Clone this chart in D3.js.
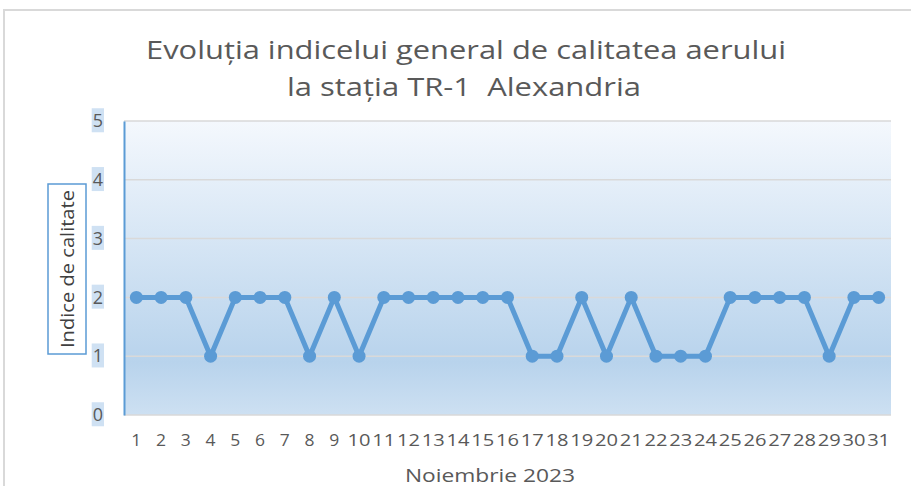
<!DOCTYPE html>
<html>
<head>
<meta charset="utf-8">
<script src="https://cdn.jsdelivr.net/npm/d3@7"></script>
<style>
	body { margin: 0; background: #fff; }
	svg { display: block; }
	text { font-family: "Open Sans", "Noto Sans", sans-serif; fill: #595959; }
</style>
</head>
<body>
<svg width="911" height="486"></svg>
<script>
// indicele general zilnic, noiembrie 2023
const data = [
	{ zi: 1, indice: 2 }, { zi: 2, indice: 2 }, { zi: 3, indice: 2 }, { zi: 4, indice: 1 },
	{ zi: 5, indice: 2 }, { zi: 6, indice: 2 }, { zi: 7, indice: 2 }, { zi: 8, indice: 1 },
	{ zi: 9, indice: 2 }, { zi: 10, indice: 1 }, { zi: 11, indice: 2 }, { zi: 12, indice: 2 },
	{ zi: 13, indice: 2 }, { zi: 14, indice: 2 }, { zi: 15, indice: 2 }, { zi: 16, indice: 2 },
	{ zi: 17, indice: 1 }, { zi: 18, indice: 1 }, { zi: 19, indice: 2 }, { zi: 20, indice: 1 },
	{ zi: 21, indice: 2 }, { zi: 22, indice: 1 }, { zi: 23, indice: 1 }, { zi: 24, indice: 1 },
	{ zi: 25, indice: 2 }, { zi: 26, indice: 2 }, { zi: 27, indice: 2 }, { zi: 28, indice: 2 },
	{ zi: 29, indice: 1 }, { zi: 30, indice: 2 }, { zi: 31, indice: 2 }
];

const blue = "#5b9bd5";
const svg = d3.select("svg");
const margin = { top: 121, right: 20, bottom: 71, left: 124 };
const width = 911 - margin.left - margin.right,
	height = 486 - margin.top - margin.bottom;

// chenarul graficului
svg.append("rect")
	.attr("x", 4).attr("y", 10)
	.attr("width", 920).attr("height", 500)
	.attr("fill", "none").attr("stroke", "#d9d9d9").attr("stroke-width", 2);

const defs = svg.append("defs");
const grad = defs.append("linearGradient")
	.attr("id", "fundal").attr("x1", 0).attr("y1", 0).attr("x2", 0).attr("y2", 1);
grad.append("stop").attr("offset", "0%").attr("stop-color", "#f4f8fd");
grad.append("stop").attr("offset", "82%").attr("stop-color", "#b8d3ec");
grad.append("stop").attr("offset", "100%").attr("stop-color", "#cde0f2");

const x = d3.scaleBand()
	.domain(data.map(d => d.zi))
	.range([0, width]);

const y = d3.scaleLinear()
	.domain([0, 5])
	.range([height, 0]);

const g = svg.append("g")
	.attr("transform", `translate(${margin.left},${margin.top})`);

g.append("rect")
	.attr("width", width).attr("height", height)
	.attr("fill", "url(#fundal)");

// linii de grila
g.append("g")
	.selectAll("line")
	.data(y.ticks(5))
	.enter().append("line")
	.attr("x1", 0).attr("x2", width)
	.attr("y1", d => y(d)).attr("y2", d => y(d))
	.attr("stroke", "#d9d9d9").attr("stroke-width", 1.5);

// axa y
const yAxis = g.append("g")
	.call(d3.axisLeft(y).ticks(5).tickSize(0).tickPadding(21));
yAxis.select(".domain").attr("stroke", blue).attr("stroke-width", 2);
yAxis.selectAll(".tick text")
	.style("font-size", "18px")
	.attr("fill", "#595959")
	.each(function () {
		const b = this.getBBox();
		d3.select(this.parentNode).insert("rect", "text")
			.attr("x", b.x - 1).attr("y", b.y)
			.attr("width", b.width + 2).attr("height", b.height)
			.attr("fill", "#cfe1f3");
	});

// axa x
const xAxis = g.append("g")
	.attr("transform", `translate(0,${height})`)
	.call(d3.axisBottom(x).tickSize(0).tickPadding(19));
xAxis.select(".domain").remove();
xAxis.selectAll(".tick text")
	.style("font-size", "17px")
	.attr("fill", "#595959")
	.attr("textLength", d => d < 10 ? 10 : 23)
	.attr("lengthAdjust", "spacingAndGlyphs");

// linia si markerii
const line = d3.line()
	.x(d => x(d.zi) + x.bandwidth() / 2)
	.y(d => y(d.indice));

g.append("path")
	.datum(data)
	.attr("fill", "none")
	.attr("stroke", blue)
	.attr("stroke-width", 5)
	.attr("stroke-linejoin", "round")
	.attr("d", line);

g.append("g")
	.selectAll("circle")
	.data(data)
	.enter().append("circle")
	.attr("cx", d => x(d.zi) + x.bandwidth() / 2)
	.attr("cy", d => y(d.indice))
	.attr("r", 6.5)
	.attr("fill", blue);

// titlu
const title = svg.append("text")
	.attr("text-anchor", "middle")
	.style("font-size", "26px")
	.style("white-space", "pre");
title.append("tspan")
	.attr("x", 466).attr("y", 59)
	.attr("textLength", 640).attr("lengthAdjust", "spacingAndGlyphs")
	.text("Evoluția indicelui general de calitatea aerului");
title.append("tspan")
	.attr("x", 464).attr("y", 96)
	.attr("textLength", 354).attr("lengthAdjust", "spacingAndGlyphs")
	.text("la stația TR-1  Alexandria");

// titlul axei y
svg.append("rect")
	.attr("x", 48).attr("y", 184)
	.attr("width", 38).attr("height", 170)
	.attr("fill", "#fff").attr("stroke", blue).attr("stroke-width", 1.5);
svg.append("text")
	.attr("transform", "translate(74,269) rotate(-90)")
	.attr("text-anchor", "middle")
	.attr("textLength", 158).attr("lengthAdjust", "spacingAndGlyphs")
	.style("font-size", "18px")
	.style("fill", "#404040")
	.text("Indice de calitate");

// titlul axei x
svg.append("text")
	.attr("x", 490).attr("y", 482)
	.attr("text-anchor", "middle")
	.attr("textLength", 170).attr("lengthAdjust", "spacingAndGlyphs")
	.style("font-size", "18px")
	.text("Noiembrie 2023");
</script>
</body>
</html>
